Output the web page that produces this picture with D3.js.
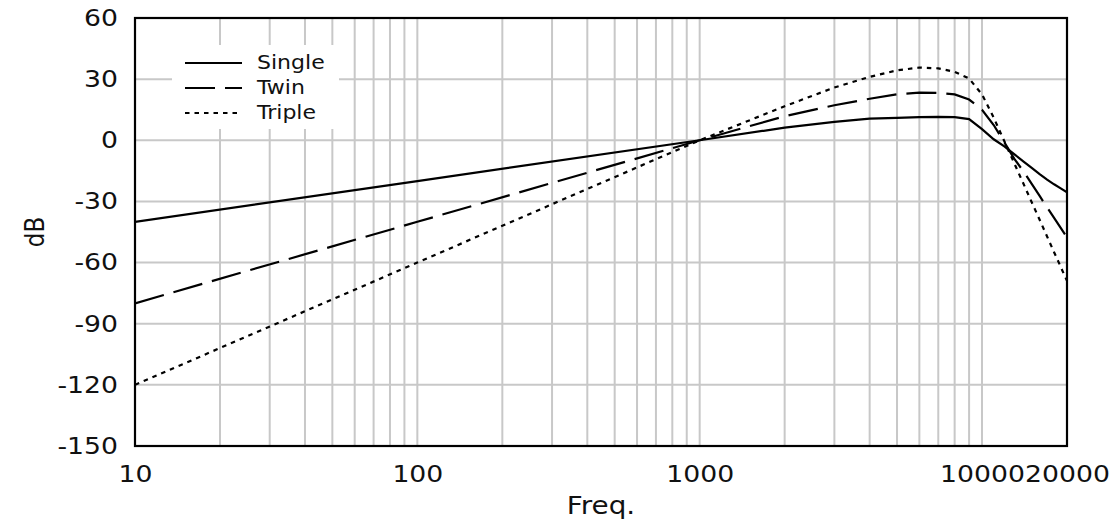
<!DOCTYPE html>
<html><head><meta charset="utf-8">
<script src="https://cdn.jsdelivr.net/npm/d3@7"></script>
<style>body{margin:0;background:#fff}svg{display:block}text{font-family:"DejaVu Sans",Verdana,sans-serif;fill:#111}</style>
</head><body><svg id="c" width="1112" height="525"></svg>
<script>
const freqs = [10,100,1000,2000,3000,4000,5000,6000,7000,8000,9000,10000,11000,12000,13000,14000,15000,16000,17000,18000,19000,20000];
const single = [-40,-20,0,6.2,9.0,10.6,11.0,11.4,11.5,11.4,10.4,5.5,0.5,-3,-6.8,-10.3,-13.5,-16.6,-19.3,-21.6,-23.6,-25.5];
const twin   = [-80,-40,0,11.8,17.2,20.4,22.6,23.4,23.2,22.5,20.0,15,7.5,-1,-9,-15.1,-21.4,-27.3,-32.9,-38.1,-43,-47.7];
const triple = [-120,-60,0,16.7,25.9,31.1,34.3,35.7,35.3,33.6,30.3,22.5,11.1,-0.5,-11.2,-21.1,-30.4,-39,-47.2,-54.9,-62.1,-69];
const seriesNames = ["Single","Twin","Triple"];
const yTicks = [-150,-120,-90,-60,-30,0,30,60];
const xTickLabels = [10,100,1000,10000,20000];
const xGrid = [20,30,40,50,60,70,80,90,100,200,300,400,500,600,700,800,900,1000,2000,3000,4000,5000,6000,7000,8000,9000,10000];

const SX = 1.16; // horizontal text stretch seen in the reference
const svg = d3.select("#c");
const L=135,R=1067,T=18,B=446;
const x = d3.scaleLog().domain([10,20000]).range([L,R]);
const y = d3.scaleLinear().domain([-150,60]).range([B,T]);

function stretch(sel){
  sel.each(function(){
    const t=d3.select(this); const ax=+t.attr("x")||0;
    t.attr("transform",`translate(${ax},0) scale(${SX},1) translate(${-ax},0)`);
  });
}

const grid = svg.append("g").attr("stroke","#c8c8c8").attr("stroke-width",2);
grid.selectAll("line.v").data(xGrid).join("line").attr("class","v")
  .attr("x1",d=>x(d)).attr("x2",d=>x(d)).attr("y1",T).attr("y2",B);
grid.selectAll("line.h").data(yTicks.filter(v=>v>-150&&v<60)).join("line").attr("class","h")
  .attr("x1",L).attr("x2",R).attr("y1",d=>y(d)).attr("y2",d=>y(d));

const lg = svg.append("g");
lg.append("rect").attr("x",172).attr("y",45).attr("width",167).attr("height",84).attr("fill","#fff");

const dashes = [null,"30,10","4.5,5"];
const data = [single,twin,triple];
const line = d3.line().x(d=>x(d[0])).y(d=>y(d[1]));
svg.append("clipPath").attr("id","pc").append("rect").attr("x",L).attr("y",T).attr("width",R-L).attr("height",B-T);
data.forEach((s,i)=>{
  svg.append("path").attr("clip-path","url(#pc)")
    .datum(freqs.map((f,j)=>[f,s[j]]))
    .attr("d",line).attr("fill","none").attr("stroke","#000").attr("stroke-width",2.2)
    .attr("stroke-dasharray",dashes[i]);
});

seriesNames.forEach((n,i)=>{
  const yy = 63 + i*25;
  lg.append("line").attr("x1",185).attr("x2",242).attr("y1",yy).attr("y2",yy)
    .attr("stroke","#000").attr("stroke-width",2.2).attr("stroke-dasharray",dashes[i]);
  lg.append("text").attr("x",257).attr("y",yy+6.5).attr("font-size",19).text(n).call(stretch);
});

svg.append("rect").attr("x",L).attr("y",T).attr("width",R-L).attr("height",B-T)
  .attr("fill","none").attr("stroke","#000").attr("stroke-width",2.2);

const ya = svg.append("g").attr("transform",`translate(${L},0)`)
  .call(d3.axisLeft(y).tickValues(yTicks).tickSize(0).tickPadding(17).tickFormat(d=>String(d)));
ya.select(".domain").remove();
ya.selectAll("text").attr("font-size",23).style("font-family","DejaVu Sans").attr("fill","#111").call(stretch);

const xa = svg.append("g").attr("transform",`translate(0,${B})`)
  .call(d3.axisBottom(x).tickValues(xTickLabels).tickSize(0).tickPadding(20).tickFormat(d=>String(d)));
xa.select(".domain").remove();
xa.selectAll("text").attr("font-size",23).style("font-family","DejaVu Sans").attr("fill","#111").call(stretch);

svg.append("text").attr("x",(L+R)/2).attr("y",514).attr("text-anchor","middle").attr("font-size",24).text("Freq.").call(stretch);
svg.append("text").attr("transform",`translate(44,${(T+B)/2}) rotate(-90) scale(1,${SX})`).attr("text-anchor","middle").attr("font-size",23).text("dB");
</script></body></html>
